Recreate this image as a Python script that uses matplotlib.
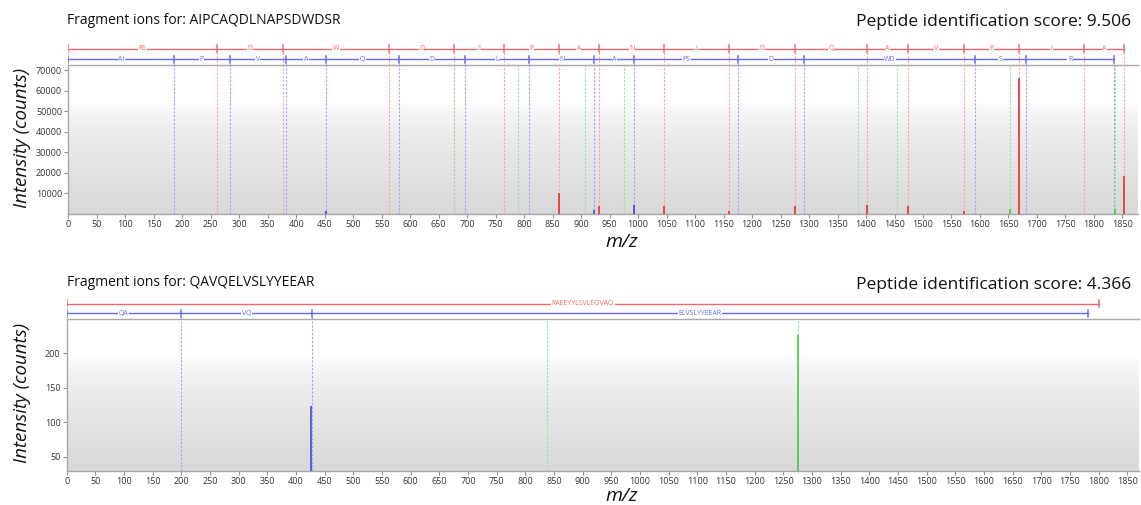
import matplotlib
matplotlib.use("Agg")
import matplotlib.pyplot as plt
import numpy as np

plt.rcParams['font.family'] = ['Open Sans', 'DejaVu Sans']

W, H = 1141, 505

# spectrum 1 : AIPCAQDLNAPSDWDSR
title1 = "Fragment ions for: AIPCAQDLNAPSDWDSR"
score1 = "Peptide identification score: 9.506"
red_ticks1 = [0, 261, 377, 563, 677, 765, 861, 931, 1046, 1160, 1275, 1402, 1474, 1572, 1669, 1783, 1853]
red_labels1 = ["RS", "D", "W", "D", "S", "P", "A", "N", "L", "D", "Q", "A", "V", "P", "I", "A"]
blue_ticks1 = [0, 186, 283, 382, 452, 581, 696, 809, 923, 993, 1176, 1291, 1592, 1680, 1836]
blue_labels1 = ["AI", "P", "V", "A", "Q", "D", "L", "N", "A", "PS", "D", "WD", "S", "R"]
red_lines1 = [261, 377, 563, 677, 765, 861, 931, 1046, 1160, 1275, 1402, 1474, 1572, 1669, 1783, 1853]
blue_lines1 = [186, 283, 382, 452, 581, 696, 809, 923, 993, 1176, 1291, 1592, 1680, 1836]
green_lines1 = [677, 790, 906, 975, 1386, 1455, 1653, 1837]
red_peak_mz1 = [862, 932, 1046, 1160, 1275, 1402, 1474, 1572, 1669, 1853]
red_peak_int1 = [10000, 4000, 3900, 1600, 4100, 4300, 3800, 1300, 66000, 18600]
blue_peak_mz1 = [452, 923, 993]
blue_peak_int1 = [1500, 1800, 4400]
green_peak_mz1 = [1653, 1837]
green_peak_int1 = [2300, 2300]
yticks1 = [10000, 20000, 30000, 40000, 50000, 60000, 70000]

# spectrum 2 : QAVQELVSLYYEEAR
title2 = "Fragment ions for: QAVQELVSLYYEEAR"
score2 = "Peptide identification score: 4.366"
red_ticks2 = [0, 1801]
red_labels2 = ["RAEEYYLSVLEQVAQ"]
blue_ticks2 = [0, 199, 428, 1781]
blue_labels2 = ["QA", "VQ", "ELVSLYYEEAR"]
red_lines2 = []
blue_lines2 = [199, 428]
green_lines2 = [837, 1276]
red_peak_mz2 = []
red_peak_int2 = []
blue_peak_mz2 = [427]
blue_peak_int2 = [124]
green_peak_mz2 = [1276]
green_peak_int2 = [226]
yticks2 = [50, 100, 150, 200]

xticks = list(range(0, 1851, 50))

RED = '#f06868'
BLUE = '#6a6af0'
RED_D = '#ffa0a0'
BLUE_D = '#a0a0ff'
GREEN_D = '#98e298'
RED_P = '#e83c3c'
BLUE_P = '#3c3ce0'
GREEN_P = '#3cc83c'
DASH = (0, (2, 1.5))


def fpos(x0, y0, x1, y1):
    # pixel box -> figure fraction rect
    return [x0 / W, 1 - y1 / H, (x1 - x0) / W, (y1 - y0) / H]


def gradient(ax):
    t = np.linspace(0, 1, 200)
    g = np.where(t < 0.25, 1.0, 1.0 - 0.15 * np.clip((t - 0.25) / 0.75, 0, 1) ** 0.6)
    img = np.dstack([g, g, g]).reshape(200, 1, 3)
    ax.imshow(img, extent=[0, 1, 0, 1], transform=ax.transAxes, aspect='auto', zorder=0)


def ladder(ax, ticks, labels, level, color, dcolor, lines):
    ax.plot([ticks[0], ticks[-1]], [level, level], color=color, lw=1.0, zorder=2)
    for t in ticks:
        ax.plot([t, t], [level - 0.14, level + 0.14], color=color, lw=1.1, zorder=3)
    for t in lines:
        ax.plot([t, t], [0, level - 0.14], color=dcolor, lw=0.8, ls=DASH, zorder=1)
    for a, b, lab in zip(ticks[:-1], ticks[1:], labels):
        ax.text((a + b) / 2, level, lab, color=color, fontsize=5, ha='center', va='center',
                zorder=4, bbox=dict(facecolor='white', edgecolor='none', pad=0.3))


def panel(ax, lad, xmax, ylim, yticks, rt, rl, bt, bl, rls, bls, gl,
          rpm, rpi, bpm, bpi, gpm, gpi):
    gradient(ax)
    for x in rls:
        ax.axvline(x, color=RED_D, lw=0.8, ls=DASH, zorder=1)
    for x in bls:
        ax.axvline(x, color=BLUE_D, lw=0.8, ls=DASH, zorder=1)
    for x in gl:
        ax.axvline(x, color=GREEN_D, lw=0.8, ls=DASH, zorder=1)
    ax.vlines(rpm, ylim[0], rpi, color=RED_P, lw=1.3, zorder=3)
    ax.vlines(bpm, ylim[0], bpi, color=BLUE_P, lw=1.1, zorder=3)
    ax.vlines(gpm, ylim[0], gpi, color=GREEN_P, lw=1.1, zorder=3)
    ax.set_xlim(0, xmax)
    ax.set_ylim(*ylim)
    ax.set_xticks(xticks)
    ax.set_yticks(yticks)
    ax.tick_params(axis='both', labelsize=6.5, colors='#909090', labelcolor='#333333',
                   length=3, width=0.8, pad=1.5)
    for s in ['left', 'bottom', 'top']:
        ax.spines[s].set_color('#a8a8a8')
        ax.spines[s].set_linewidth(1.0)
    ax.spines['right'].set_visible(False)

    lad.set_xlim(0, xmax)
    lad.set_ylim(0, 1)
    lad.axis('off')
    ladder(lad, rt, rl, 0.65, RED, RED_D, [x for x in rls if x in rt])
    ladder(lad, bt, bl, 0.25, BLUE, BLUE_D, [x for x in bls if x in bt])


fig = plt.figure(figsize=(W / 100, H / 100), dpi=100)
fig.patch.set_facecolor('white')

ax1 = fig.add_axes(fpos(68.3, 65.5, 1138, 214))
lad1 = fig.add_axes(fpos(68.3, 40, 1138, 65.5))
panel(ax1, lad1, (1138 - 68.3) / 0.5698, (0, 72300), yticks1,
      red_ticks1, red_labels1, blue_ticks1, blue_labels1,
      red_lines1, blue_lines1, green_lines1,
      red_peak_mz1, red_peak_int1, blue_peak_mz1, blue_peak_int1, green_peak_mz1, green_peak_int1)

ax2 = fig.add_axes(fpos(66.7, 319.3, 1138.5, 470.7))
lad2 = fig.add_axes(fpos(66.7, 295, 1138.5, 319.3))
panel(ax2, lad2, (1138.5 - 66.7) / 0.5733, (30, 249), yticks2,
      red_ticks2, red_labels2, blue_ticks2, blue_labels2,
      red_lines2, blue_lines2, green_lines2,
      red_peak_mz2, red_peak_int2, blue_peak_mz2, blue_peak_int2, green_peak_mz2, green_peak_int2)

# titles
fig.text(67 / W, 1 - 20 / H, title1, fontsize=10, ha='left', va='center', color='#111111')
fig.text(1131 / W, 1 - 22 / H, score1, fontsize=12.5, ha='right', va='center', color='#111111')
fig.text(67 / W, 1 - 283 / H, title2, fontsize=10, ha='left', va='center', color='#111111')
fig.text(1131 / W, 1 - 285 / H, score2, fontsize=12.5, ha='right', va='center', color='#111111')

# axis labels
for yc in [138, 393]:
    fig.text(22 / W, 1 - yc / H, "Intensity (counts)", fontsize=13.5, style='italic',
             rotation=90, ha='center', va='center', color='#111111')
for yc in [242, 496]:
    fig.text(622 / W, 1 - yc / H, "m/z", fontsize=14, style='italic',
             ha='center', va='center', color='#111111')

fig.savefig('out.png', dpi=100)
